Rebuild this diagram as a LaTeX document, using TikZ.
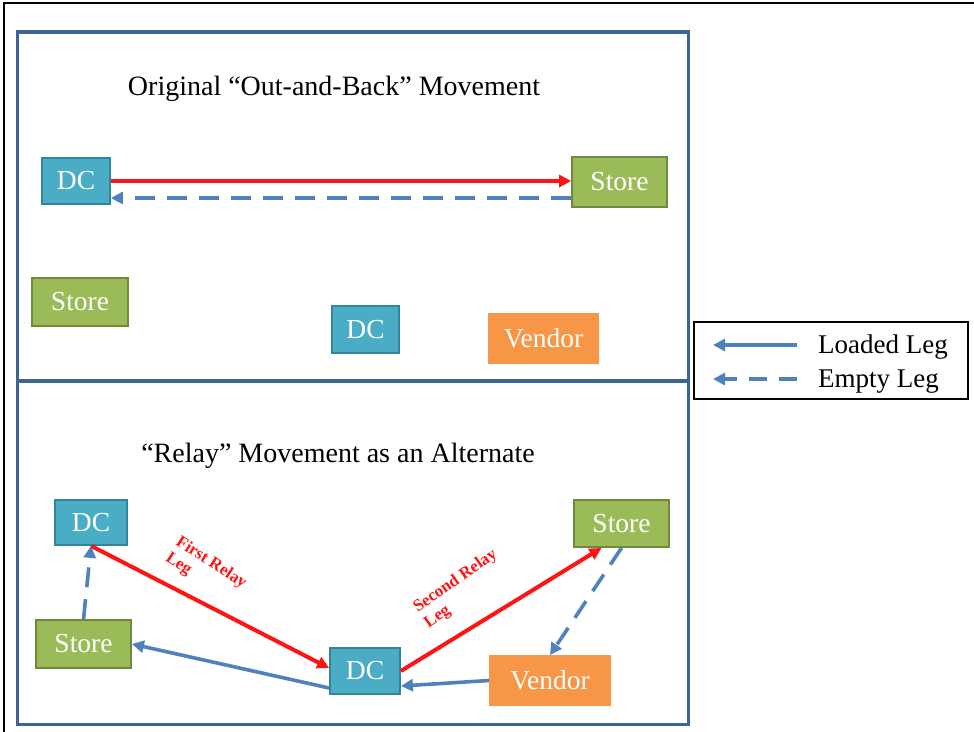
\documentclass[tikz,border=0pt]{standalone}
\usepackage{fontspec}
\setmainfont{Liberation Serif}
\usetikzlibrary{arrows.meta,calc}
\definecolor{dcfill}{RGB}{75,172,198}
\definecolor{dcline}{RGB}{49,133,156}
\definecolor{stfill}{RGB}{155,187,89}
\definecolor{stline}{RGB}{113,137,63}
\definecolor{vdfill}{RGB}{247,150,70}
\definecolor{legblue}{RGB}{79,129,189}
\definecolor{framec}{RGB}{62,100,150}
\definecolor{legred}{RGB}{255,20,20}
\tikzset{
  box/.style={rectangle, inner sep=0pt, text=white, font=\fontsize{27.5}{27.5}\selectfont, line width=1.8pt},
  dcbox/.style={box, fill=dcfill, draw=dcline},
  stbox/.style={box, fill=stfill, draw=stline},
  vdbox/.style={box, fill=vdfill, draw=vdfill},
  title/.style={font=\fontsize{28}{28}\selectfont},
  loaded/.style={legblue, line width=3.6pt, -{Triangle[length=12pt,width=12pt]}},
  empty/.style={loaded, dash pattern=on 20pt off 12pt},
  relay/.style={legred, line width=4pt, -{Triangle[length=12pt,width=12pt]}},
  relaytext/.style={text=legred, font=\fontsize{17}{19}\selectfont\bfseries, align=left, inner sep=0pt},
  legtext/.style={anchor=base west, inner sep=0pt, font=\fontsize{27}{27}\selectfont}
}
\begin{document}
\begin{tikzpicture}[x=1pt,y=-1pt]
\useasboundingbox (0,0) rectangle (974,731);
% page frame
\draw[black, line width=1.2pt] (4,740) -- (4,3) -- (990,3);
% panel frame and divider
\draw[framec, line width=3pt] (17,31) rectangle (688,724);
\draw[framec, line width=2pt] (17,32.5) -- (688,32.5);
\draw[framec, line width=3.5pt] (17,381) -- (688,381);

% upper panel
\node[title] (t1) at (334,89) {Original “Out-and-Back” Movement};
\node[dcbox, minimum width=68pt, minimum height=46pt] (dca) at (76,181) {DC};
\node[stbox, minimum width=95pt, minimum height=50pt] (sta) at (619.5,182) {Store};
\node[stbox, minimum width=96pt, minimum height=48pt] (stb) at (80,302) {Store};
\node[dcbox, minimum width=67pt, minimum height=47pt] (dcb) at (365.5,329.5) {DC};
\node[vdbox, minimum width=109pt, minimum height=49pt] (vdb) at (543.5,338.5) {Vendor};
\coordinate (backy) at (0,198);
\draw[relay] (dca.east) -- (sta.west |- dca.east);
\draw[empty] (sta.west |- backy) -- (dca.east |- backy);

% legend
\node[draw=black, line width=1.5pt, minimum width=274pt, minimum height=77pt, inner sep=0pt] (leg) at (831,360.5) {};
\coordinate (l1a) at (797,345);
\coordinate (l1b) at (713,345);
\coordinate (l2a) at (797,379);
\coordinate (l2b) at (713,379);
\draw[loaded] (l1a) -- (l1b);
\draw[empty, dash pattern=on 18pt off 12pt] (l2a) -- (l2b);
\node[legtext] (lt1) at (818,353) {Loaded Leg};
\node[legtext] (lt2) at (818,387) {Empty Leg};

% lower panel
\node[title] (t2) at (338,456) {“Relay” Movement as an Alternate};
\node[dcbox, minimum width=72pt, minimum height=45pt] (dc1) at (91,522.5) {DC};
\node[stbox, minimum width=95pt, minimum height=48pt] (st2) at (83.5,644) {Store};
\node[dcbox, minimum width=70pt, minimum height=46pt] (dc3) at (365,671) {DC};
\node[stbox, minimum width=95pt, minimum height=47pt] (st4) at (621.5,523.5) {Store};
\node[vdbox, minimum width=120pt, minimum height=49pt] (vd5) at (550,680.5) {Vendor};

\draw[relay] (dc1.south) -- ($(dc3.west)+(0,-3)$);
\draw[relay] (dc3.east) -- ($(st4.south)+(-20,0)$);
\draw[empty] (st2.north) -- (dc1.south);
\draw[empty] (st4.south) -- (vd5.north);
\draw[loaded] ($(dc3.west)+(0,17)$) -- (st2.east);
\draw[loaded] (vd5.west) -- ($(dc3.east)+(0,15)$);

\node[relaytext, rotate=-33] (r1) at (206,571) {First Relay\\Leg};
\node[relaytext, rotate=35] (r2) at (461,589) {Second Relay\\Leg};
\end{tikzpicture}
\end{document}
